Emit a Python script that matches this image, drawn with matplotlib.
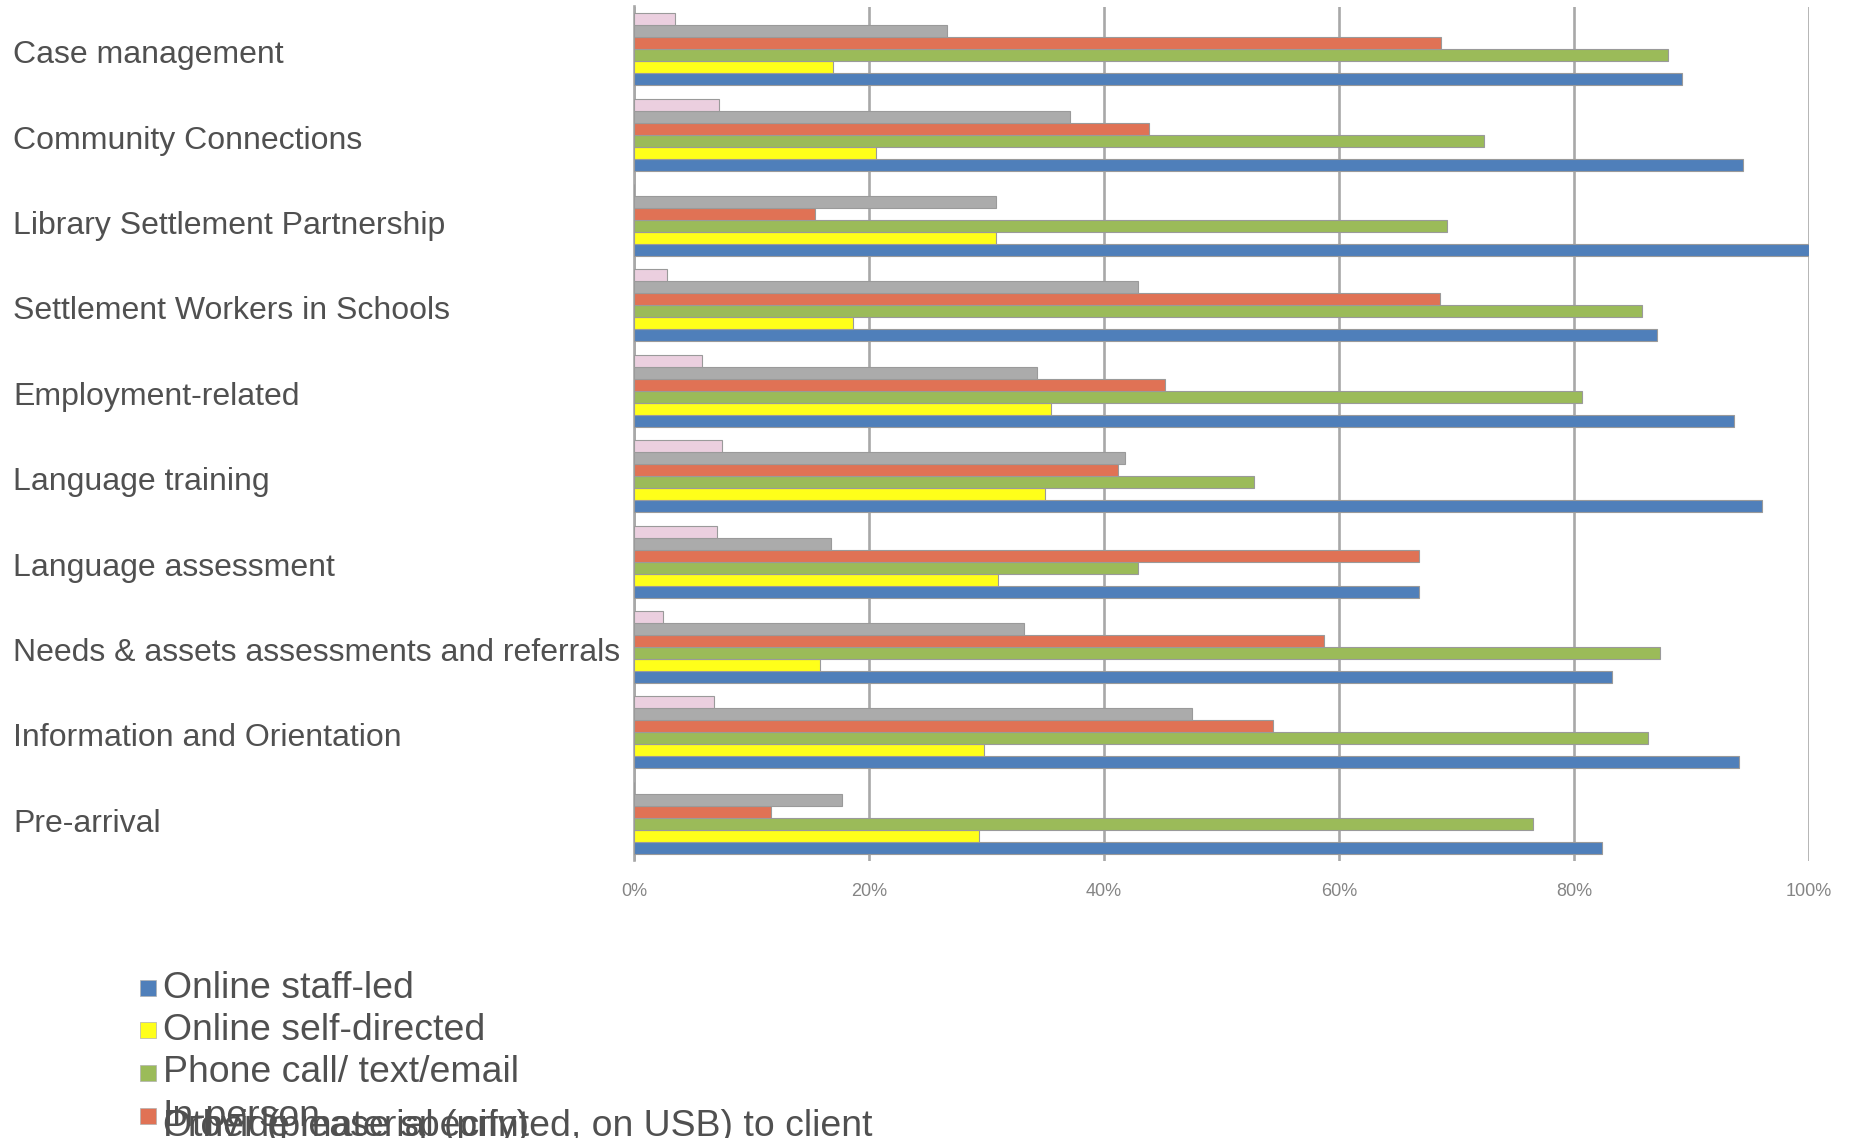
import matplotlib
matplotlib.use('Agg')
from matplotlib import pyplot as plt
from matplotlib.patches import Rectangle
import numpy as np

plt.rcParams['font.family'] = ['Liberation Sans', 'DejaVu Sans']

# service categories, top to bottom
categories = ['Case management', 'Community Connections', 'Library Settlement Partnership',
              'Settlement Workers in Schools', 'Employment-related', 'Language training',
              'Language assessment', 'Needs & assets assessments and referrals',
              'Information and Orientation', 'Pre-arrival']

# share of respondents per delivery mode (0-1)
online_staff = [0.892, 0.944, 1.000, 0.871, 0.936, 0.960, 0.668, 0.832, 0.940, 0.824]
online_self = [0.169, 0.206, 0.308, 0.186, 0.355, 0.350, 0.310, 0.158, 0.298, 0.294]
phone_text = [0.880, 0.723, 0.692, 0.858, 0.807, 0.528, 0.429, 0.873, 0.863, 0.765]
in_person = [0.687, 0.438, 0.154, 0.686, 0.452, 0.412, 0.668, 0.587, 0.544, 0.117]
material = [0.266, 0.371, 0.308, 0.429, 0.343, 0.418, 0.168, 0.332, 0.475, 0.177]
other = [0.035, 0.072, 0.0, 0.028, 0.058, 0.075, 0.071, 0.025, 0.068, 0.0]

series = [online_staff, online_self, phone_text, in_person, material, other]
names = ['Online staff-led', 'Online self-directed', 'Phone call/ text/email', 'In-person',
         'Provide material (printed, on USB) to client', 'Other (please specify)']
colors = ['#4f7fba', '#ffff1a', '#9bbb59', '#e07255', '#ababab', '#ebcfdf']

xticks = [0, 0.2, 0.4, 0.6, 0.8, 1.0]
xticklabels = ['0%', '20%', '40%', '60%', '80%', '100%']

W, H = 1854, 1138
fig = plt.figure(figsize=(W / 100, H / 100), dpi=100)
ax = fig.add_axes([634 / W, 1 - 860.5 / H, 1175 / W, 854 / H])

y = np.arange(len(categories))
h = 0.1405
# first series at the bottom of each group, last at the top
for k, vals in enumerate(series):
    offset = (2.5 - k) * h
    ax.barh(y + offset, vals, height=h, color=colors[k],
            edgecolor='#9a9a9a', linewidth=0.8, zorder=3)

ax.set_ylim(-0.5, len(categories) - 0.5)
ax.invert_yaxis()
ax.set_xlim(0, 1.0)
ax.set_xticks(xticks)
ax.set_xticklabels(xticklabels, fontsize=13, color='#858585')
ax.tick_params(axis='x', length=0, pad=16)
ax.set_yticks([])
ax.grid(axis='x', color='#a8a8a8', linewidth=1.9, zorder=0)
for s in ['top', 'right', 'bottom']:
    ax.spines[s].set_visible(False)
ax.spines['left'].set_color('#a8a8a8')
ax.spines['left'].set_linewidth(1.9)

for i, c in enumerate(categories):
    ax.text((13 - 634) / 1175, i + 0.07, c, transform=ax.get_yaxis_transform(),
            ha='left', va='center', fontsize=23, color='#505050')

# legend drawn by hand to keep the overlapping last rows
rows_y = [988, 1030, 1073, 1116, 1126, 1126]
for i, name in enumerate(names):
    yy = rows_y[i]
    if i < 4:
        fig.add_artist(Rectangle((140 / W, 1 - (yy + 8) / H), 16 / W, 16 / H,
                                 transform=fig.transFigure, facecolor=colors[i],
                                 edgecolor='#b0b0b0', linewidth=0.5))
    fig.text(163 / W, 1 - yy / H, name, ha='left', va='center', fontsize=26.9,
             color='#505050')

plt.savefig('out.png', dpi=100)
